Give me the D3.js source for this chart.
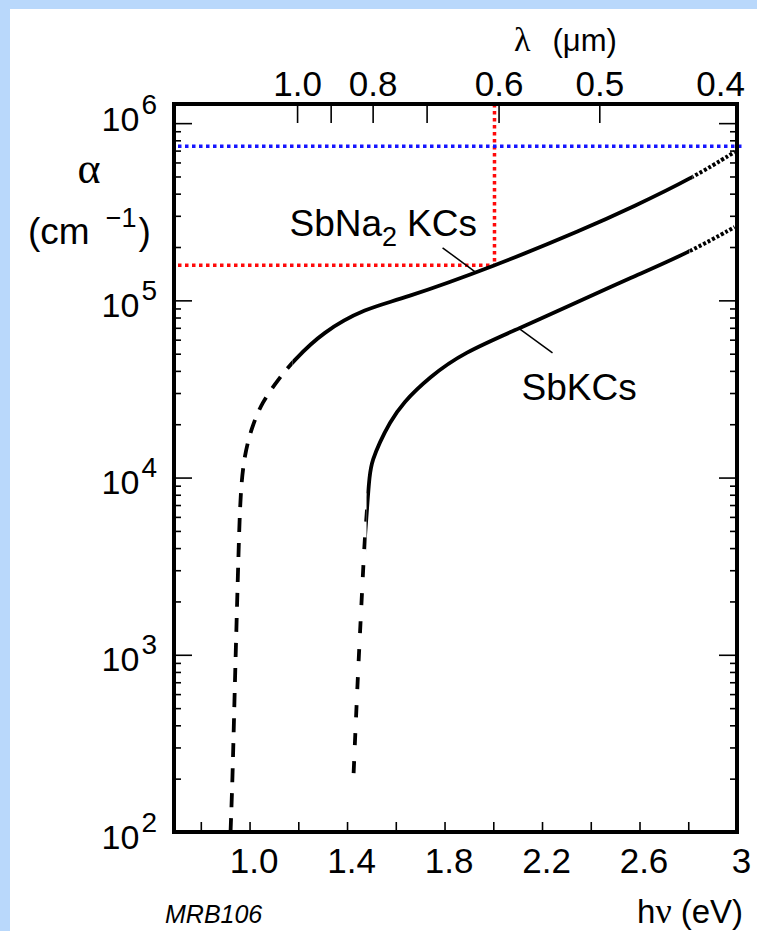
<!DOCTYPE html>
<html>
<head>
<meta charset="utf-8">
<script src="https://cdn.jsdelivr.net/npm/d3@7/dist/d3.min.js"></script>
<style>
  body { margin: 0; background: #b9d8fb; }
  svg { display: block; }
  text { font-family: "Liberation Sans", Arial, sans-serif; fill: #000; }
  text.greek, tspan.greek { font-family: "Liberation Serif", "DejaVu Serif", serif; }
</style>
</head>
<body>
<svg width="757" height="931"></svg>
<script>
// Photon energy (eV) vs absorption coefficient (cm^-1).
var na2kcsEnergy = [0.922, 0.930, 0.938, 0.947, 0.955, 0.963, 0.979, 1.008, 1.049, 1.123, 1.176,
                    1.300, 1.480, 1.616, 2.005, 2.366, 2.572, 2.818, 2.990];
var na2kcsAlpha  = [100, 196, 556, 1570, 3900, 8500, 13400, 19000, 26400, 36500, 44900,
                    66400, 90600, 100500, 156000, 250000, 336000, 491000, 687000];
// where the drawn line changes: dashed -> solid -> dotted (eV)
var na2kcsBreaks = [1.176, 2.818];

var kcsEnergy = [1.427, 1.443, 1.460, 1.472, 1.480, 1.492, 1.505, 1.533, 1.574, 1.628, 1.739, 1.874,
                 2.120, 2.301, 2.572, 2.805, 2.990];
var kcsAlpha  = [215, 700, 2040, 4450, 6000, 10600, 12600, 15700, 20300, 26400, 37000, 50500,
                 70800, 91800, 135500, 187000, 259000];
var kcsBreaks = [1.480, 2.805];

// Axis ticks
var energyTicks  = [0.8, 1.0, 1.2, 1.4, 1.6, 1.8, 2.0, 2.2, 2.4, 2.6, 2.8, 3.0];
var energyLabels = [1.0, 1.4, 1.8, 2.2, 2.6, 3.0];
var lambdaTicks  = [1.0, 0.9, 0.8, 0.7, 0.6, 0.5];
var lambdaLabels = [1.0, 0.8, 0.6, 0.5];
var decades      = [1e2, 1e3, 1e4, 1e5, 1e6];

// Guide lines
var markEnergy = 2.005, markAlpha = 158000;   // red: 0.6 um point on SbNa2KCs
var limitAlpha = 740000;                      // blue: upper level

var svg = d3.select("svg");

// Light blue border with a white sheet
svg.append("rect").attr("width", 757).attr("height", 931).attr("fill", "#b9d8fb");
svg.append("rect").attr("x", 10).attr("y", 9).attr("width", 747).attr("height", 922).attr("fill", "#fff");

var x = d3.scaleLinear().domain([0.69, 3.0]).range([174, 737]);
var y = d3.scaleLog().domain([100, Math.pow(10, 6.108)]).range([832, 104]);
// the wavelength scale of the drawing sits about 0.045 eV to the left
var xTop = d3.scaleLinear().domain([0.735, 3.045]).range([174, 737]);

// ---- guide lines (under everything)
function guide(x1, y1, x2, y2, colour) {
  svg.append("line").attr("x1", x1).attr("y1", y1).attr("x2", x2).attr("y2", y2)
     .attr("stroke", colour).attr("stroke-width", 3.5).style("stroke-dasharray", "3.5,3.5");
}
guide(x(markEnergy), y.range()[1], x(markEnergy), y(markAlpha), "#ff0a0a");
guide(x.range()[0] + 4, y(markAlpha), x(markEnergy), y(markAlpha), "#ff0a0a");
guide(x.range()[0] + 4, y(limitAlpha), x.range()[1] + 6, y(limitAlpha), "#1515ff");

// ---- curves: one smooth path, shown dashed / solid / dotted through x-clips
var line = d3.line()
  .x(function(d) { return x(d[0]); })
  .y(function(d) { return y(d[1]); })
  .curve(d3.curveBasis);

var defs = svg.append("defs");
var clipId = 0;

function drawCurve(energy, alpha, breaks, dash) {
  var pts = energy.map(function(e, i) { return [e, alpha[i]]; });
  var edges = [energy[0] - 0.05].concat(breaks, [energy[energy.length - 1] + 0.05]);
  var styles = [dash, null, "3,2"];
  for (var i = 0; i < 3; i++) {
    var id = "clip" + (clipId++);
    defs.append("clipPath").attr("id", id).append("rect")
        .attr("x", x(edges[i])).attr("y", 0)
        .attr("width", x(edges[i + 1]) - x(edges[i])).attr("height", 931);
    svg.append("path")
       .attr("d", line(pts))
       .attr("clip-path", "url(#" + id + ")")
       .attr("fill", "none")
       .attr("stroke", "#000")
       .attr("stroke-width", i == 2 ? 4 : 3.8)
       .style("stroke-dasharray", styles[i]);
  }
}
drawCurve(na2kcsEnergy, na2kcsAlpha, na2kcsBreaks, "14,11");
drawCurve(kcsEnergy, kcsAlpha, kcsBreaks, "12,16");

// ---- curve labels with leader lines
svg.append("line")
   .attr("x1", x(1.792)).attr("y1", y(198000)).attr("x2", x(1.927)).attr("y2", y(144500))
   .attr("stroke", "#000").attr("stroke-width", 1.5);
svg.append("line")
   .attr("x1", x(2.108)).attr("y1", y(69000)).attr("x2", x(2.243)).attr("y2", y(50500))
   .attr("stroke", "#000").attr("stroke-width", 1.5);

var lab1 = svg.append("text").attr("x", x(1.164)).attr("y", y(231000)).style("font-size", "37px");
lab1.append("tspan").text("SbNa");
lab1.append("tspan").attr("dy", 10).style("font-size", "27px").text("2");
lab1.append("tspan").attr("dy", -10).attr("dx", 10).text("KCs");

svg.append("text").attr("x", x(2.116)).attr("y", y(27400)).style("font-size", "37px").text("SbKCs");

// ---- axes
function styleAxis(g) {
  g.select(".domain").remove();
  g.selectAll(".tick line").attr("stroke", "#000").attr("stroke-width", 1.6);
  g.selectAll(".tick text").style("font-family", "'Liberation Sans', Arial, sans-serif")
   .style("font-size", "35px").attr("fill", "#000");
}
function isIn(list, v) { return list.some(function(l) { return Math.abs(l - v) < 1e-9; }); }

// bottom: photon energy
svg.append("g")
   .attr("transform", "translate(0," + y.range()[0] + ")")
   .call(d3.axisBottom(x).tickValues(energyTicks).tickSize(-10).tickPadding(16)
           .tickFormat(function(d) { return isIn(energyLabels, d) ? (d == 3 ? "3" : d3.format(".1f")(d)) : ""; }))
   .call(styleAxis)
   .selectAll(".tick text").attr("dx", 4);

// top: wavelength
svg.append("g")
   .attr("transform", "translate(0," + y.range()[1] + ")")
   .call(d3.axisTop(xTop).tickValues(lambdaTicks.map(function(l) { return 1.24 / l; }))
           .tickSize(-19).tickPadding(8)
           .tickFormat(function(e) { var l = 1.24 / e; return isIn(lambdaLabels, l) ? d3.format(".1f")(l) : ""; }))
   .call(styleAxis);
svg.append("text").attr("x", x.range()[1] + 8).attr("y", 96).attr("text-anchor", "end")
   .style("font-size", "35px").text("0.4");

// minor log ticks
var minors = [];
decades.forEach(function(d) {
  for (var k = 2; k <= 9; k++) if (d * k < y.domain()[1]) minors.push(d * k);
});

svg.append("g").attr("transform", "translate(" + x.range()[0] + ",0)")
   .call(d3.axisLeft(y).tickValues(minors).tickSize(-7).tickFormat("")).call(styleAxis);
svg.append("g").attr("transform", "translate(" + x.range()[1] + ",0)")
   .call(d3.axisRight(y).tickValues(minors).tickSize(-7).tickFormat("")).call(styleAxis);
svg.append("g").attr("transform", "translate(" + x.range()[1] + ",0)")
   .call(d3.axisRight(y).tickValues(decades).tickSize(-18).tickFormat("")).call(styleAxis);

// major decades on the left, written as 10^n
var left = svg.append("g").attr("transform", "translate(" + x.range()[0] + ",0)")
   .call(d3.axisLeft(y).tickValues(decades).tickSize(-18).tickPadding(17).tickFormat(""))
   .call(styleAxis);
left.selectAll(".tick text").each(function(d) {
  // the top label is squeezed up against the frame
  var t = d3.select(this).attr("dy", 0)
     .attr("y", d >= 1e6 ? 7 : 16)
     .style("font-size", "34px");
  t.append("tspan").text("10");
  t.append("tspan").attr("dy", -17).attr("dx", 2).style("font-size", "28px").text(Math.round(Math.log10(d)));
});

// frame
svg.append("rect")
   .attr("x", x.range()[0]).attr("y", y.range()[1])
   .attr("width", x.range()[1] - x.range()[0]).attr("height", y.range()[0] - y.range()[1])
   .attr("fill", "none").attr("stroke", "#000").attr("stroke-width", 4);

// ---- axis titles
svg.append("text").attr("x", 89).attr("y", 183).attr("text-anchor", "middle")
   .attr("class", "greek").style("font-size", "44px").text("α");

var unit = svg.append("text").attr("x", 28).attr("y", 244).style("font-size", "37px");
unit.append("tspan").text("(cm");
unit.append("tspan").attr("dx", 16).attr("dy", -17).style("font-size", "27px").text("−1");
unit.append("tspan").attr("dx", 2).attr("dy", 17).text(")");

var lam = svg.append("text").attr("x", 514).attr("y", 51).style("font-size", "31px");
lam.append("tspan").attr("class", "greek").style("font-size", "34px").text("λ");
lam.append("tspan").attr("dx", 22).text("(μm)");

var hv = svg.append("text").attr("x", 743).attr("y", 923).attr("text-anchor", "end").style("font-size", "33px");
hv.append("tspan").text("h");
hv.append("tspan").attr("class", "greek").style("font-size", "36px").text("ν");
hv.append("tspan").attr("dx", 9).text("(eV)");

svg.append("text").attr("x", 165).attr("y", 923).style("font-size", "25px").style("font-style", "italic").text("MRB106");
</script>
</body>
</html>
